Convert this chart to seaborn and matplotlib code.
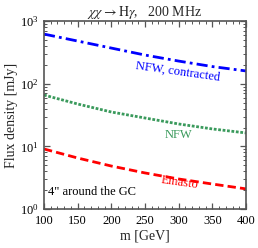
import matplotlib
matplotlib.use("Agg")
import matplotlib.pyplot as plt
import seaborn as sns
import pandas as pd
from matplotlib.ticker import MultipleLocator, LogLocator, NullFormatter

mass = [100, 150, 200, 250, 300, 350, 400]
nfw_contracted = [620, 480, 371, 287, 230, 188, 160]
nfw = [66, 47.5, 35.4, 28.4, 22.8, 19.0, 16.4]
einasto = [9.1, 6.53, 4.86, 3.77, 3.02, 2.51, 2.10]

sns.set_theme(style="ticks")
plt.rcParams['font.family'] = ['Liberation Serif', 'DejaVu Serif']
plt.rcParams['mathtext.fontset'] = 'stix'

fig = plt.figure(figsize=(2.58, 2.48), dpi=100)
ax = fig.add_axes([0.1705, 0.157, 0.783, 0.758])

df = pd.DataFrame({"m": mass * 3,
                   "flux": nfw_contracted + nfw + einasto,
                   "profile": ["NFW, contracted"] * 7 + ["NFW"] * 7 + ["Einasto"] * 7})

colors = {"NFW, contracted": "#0000ff", "NFW": "#3a9a5c", "Einasto": "#ff0000"}
styles = {"NFW, contracted": (0, (4, 1.5, 1, 1.5)), "NFW": (0, (1, 0.6)), "Einasto": (0, (3, 1.5))}
for name in ["NFW, contracted", "NFW", "Einasto"]:
    sub = df[df.profile == name]
    sns.lineplot(data=sub, x="m", y="flux", ax=ax, color=colors[name],
                 linestyle=styles[name], linewidth=2.0, legend=False)

ax.set_yscale("log")
ax.set_xlim(100, 400)
ax.set_ylim(1, 1000)
ax.xaxis.set_major_locator(MultipleLocator(50))
ax.xaxis.set_minor_locator(MultipleLocator(10))
ax.yaxis.set_major_locator(LogLocator(base=10, numticks=10))
ax.yaxis.set_minor_locator(LogLocator(base=10, subs=range(2, 10), numticks=10))
ax.yaxis.set_minor_formatter(NullFormatter())

for s in ax.spines.values():
    s.set_color("#555555")
    s.set_linewidth(1.2)
ax.tick_params(which="both", direction="in", top=True, right=True, color="#555555",
               labelsize=9, labelcolor="black")
ax.tick_params(which="major", length=4, width=0.9, pad=4)
ax.tick_params(which="minor", length=2, width=0.7)

ax.set_xlabel("m [GeV]", fontsize=10, labelpad=2)
ax.set_ylabel("Flux density [mJy]", fontsize=10, labelpad=1)
ax.set_title(r"$\chi\chi \rightarrow \mathrm{H}\gamma$,   200 MHz", fontsize=10, pad=3)

ax.text(299, 155, "NFW, contracted", color="#0000ff", fontsize=9, rotation=-8,
        ha="center", va="center")
ax.text(299, 15.2, "NFW", color="#3a9a5c", fontsize=9, ha="center", va="center")
ax.text(302, 2.6, "Einasto", color="#ff0000", fontsize=9, rotation=-8,
        ha="center", va="center")
ax.text(106, 1.86, "4\" around the GC", color="black", fontsize=9,
        ha="left", va="center")

fig.savefig("out.png", dpi=100)
